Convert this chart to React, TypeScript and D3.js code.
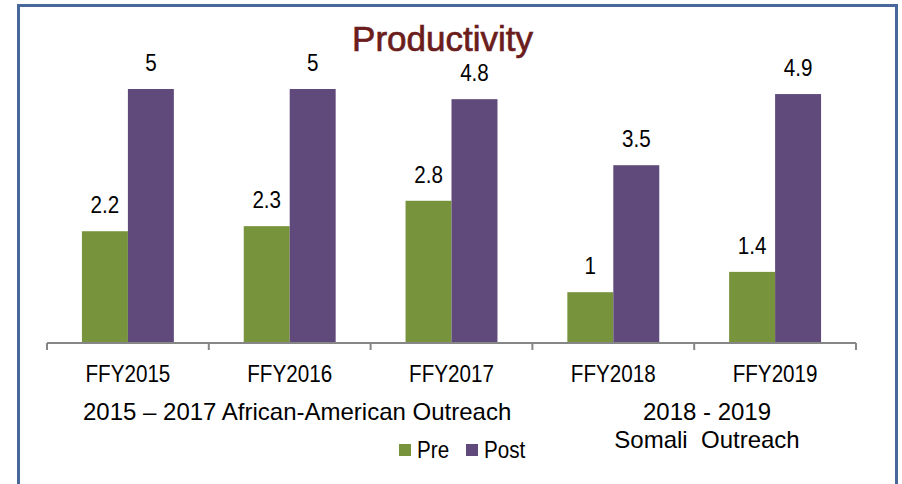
import React from "react";
import * as d3 from "d3";

const categories = ["FFY2015", "FFY2016", "FFY2017", "FFY2018", "FFY2019"];
const seriesNames = ["Pre", "Post"];
const preValues = [2.2, 2.3, 2.8, 1, 1.4];
const postValues = [5, 5, 4.8, 3.5, 4.9];
const colors = ["#77933c", "#604a7b"];
const title = "Productivity";
const annotationLeft = "2015 – 2017 African-American Outreach";
const annotationRight = ["2018 - 2019", "Somali  Outreach"];

const W = 902;
const H = 484;
const FONT = "'Liberation Sans', Arial, sans-serif";
const SX = 0.86;

function NarrowText({ x, y, anchor = "middle", size = 24, children }: any) {
  return (
    <g transform={`translate(${x},${y}) scale(${SX},1)`}>
      <text x={0} y={0} textAnchor={anchor} fontSize={size} fontFamily={FONT} fill="#000">
        {children}
      </text>
    </g>
  );
}

export default function App() {
  const baseY = 343;
  const x0 = d3.scaleBand<string>().domain(categories).range([47, 856]).paddingInner(0).paddingOuter(0);
  const x1 = d3
    .scaleBand<string>()
    .domain(seriesNames)
    .range([0, x0.bandwidth()])
    .paddingInner(0)
    .paddingOuter(0.76);
  const y = d3.scaleLinear().domain([0, 6]).range([baseY, baseY - 6 * 50.8]);
  const series = [preValues, postValues];
  const ticks = [...categories.map((c) => x0(c)!), 856];

  return (
    <svg width={W} height={H} style={{ position: "absolute", left: 0, top: 0, background: "#fff" }}>
      <rect x={18.5} y={5.5} width={878} height={500} fill="#fff" stroke="#48679a" strokeWidth={3} />
      <text
        x={442.5}
        y={51}
        textAnchor="middle"
        fontSize={35}
        fontFamily={FONT}
        fill="#6b1c1c"
        stroke="#6b1c1c"
        strokeWidth={0.7}
      >
        {title}
      </text>
      {categories.map((c, i) =>
        series.map((vals, s) => {
          const bx = x0(c)! + x1(seriesNames[s])!;
          const bw = x1.bandwidth();
          const v = vals[i];
          return (
            <g key={c + s}>
              <rect x={bx} y={y(v)} width={bw} height={baseY - y(v)} fill={colors[s]} />
              <NarrowText x={bx + bw / 2} y={y(v) - 18}>
                {String(v)}
              </NarrowText>
            </g>
          );
        })
      )}
      <line x1={47} x2={856} y1={baseY} y2={baseY} stroke="#868686" strokeWidth={2} />
      {ticks.map((t, i) => (
        <line key={i} x1={t} x2={t} y1={baseY} y2={baseY + 7} stroke="#868686" strokeWidth={2} />
      ))}
      {categories.map((c) => (
        <NarrowText key={c} x={x0(c)! + x0.bandwidth() / 2} y={382}>
          {c}
        </NarrowText>
      ))}
      <text x={83} y={420} fontSize={24} fontFamily={FONT} fill="#000">
        {annotationLeft}
      </text>
      {annotationRight.map((t, i) => (
        <text key={i} x={707} y={420 + i * 28} textAnchor="middle" fontSize={24} fontFamily={FONT} fill="#000" style={{ whiteSpace: "pre" }}>
          {t}
        </text>
      ))}
      {seriesNames.map((n, i) => {
        const lx = [399, 466][i];
        return (
          <g key={n}>
            <rect x={lx} y={444} width={12} height={12} fill={colors[i]} />
            <NarrowText x={lx + 18} y={458} anchor="start">
              {n}
            </NarrowText>
          </g>
        );
      })}
    </svg>
  );
}
